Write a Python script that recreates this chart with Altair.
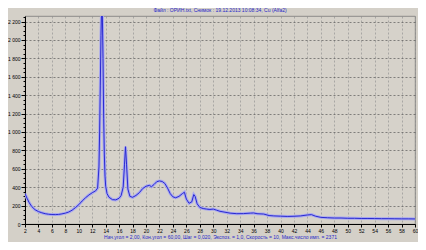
import altair as alt
import pandas as pd

two_theta = [2.0, 2.3, 2.6, 3.0, 3.5, 4.0, 4.5, 5.0, 5.5, 6.0, 6.5, 7.0, 7.5, 8.0, 8.5, 9.0, 9.5,
             10.0, 10.5, 11.0, 11.5, 12.0, 12.5, 12.8, 13.0, 13.1, 13.2, 13.3, 13.4, 13.5, 13.6,
             13.7, 13.8, 13.9, 14.0, 14.2, 14.5, 15.0, 15.5, 16.0, 16.3, 16.6, 16.8, 16.95, 17.1,
             17.3, 17.6, 18.0, 18.5, 19.0, 19.5, 20.0, 20.5, 20.8, 21.2, 21.6, 22.0, 22.4, 22.8,
             23.2, 23.6, 24.0, 24.4, 24.9, 25.4, 25.7, 26.0, 26.4, 26.8, 27.1, 27.3, 27.6, 28.0,
             28.5, 29.0, 29.5, 30.0, 30.5, 31.0, 31.6, 32.5, 33.5, 34.5, 35.5, 36.0, 36.5, 37.5,
             38.3, 39.0, 40.0, 41.0, 42.0, 43.0, 44.0, 44.6, 45.2, 46.0, 47.0, 48.0, 49.0, 50.0,
             51.0, 52.0, 53.0, 54.0, 55.0, 56.0, 57.0, 58.0, 59.0, 60.0]
counts = [330, 280, 235, 190, 155, 135, 122, 112, 106, 103, 102, 104, 110, 118, 130, 150, 178,
          210, 250, 285, 315, 340, 360, 390, 620, 1000, 1500, 2050, 2371, 2300, 1800,
          1150, 750, 520, 410, 330, 290, 265, 262, 280, 310, 400, 650, 840, 650,
          380, 300, 290, 310, 340, 385, 410, 420, 405, 430, 460, 468, 462, 440,
          390, 330, 295, 285, 300, 330, 345, 270, 225, 240, 320, 300, 220, 180,
          168, 162, 158, 162, 150, 138, 130, 118, 112, 113, 118, 120, 112, 108,
          92, 88, 85, 82, 84, 88, 98, 102, 85, 72, 68, 65, 65, 62,
          62, 60, 60, 59, 58, 58, 57, 56, 56, 55]

x_ticks = list(range(2, 61, 2))
y_ticks = list(range(0, 2251, 50))

title_text = "Файл : ОРИН.txt,  Снимок : 19.12.2013 10:08:34,  Cu (Alfa2)"
footer_text = ("Нач.угол = 2,00,  Кон.угол = 60,00,  Шаг = 0,020,  Экспоз. = 1,0,  "
               "Скорость = 10,  Макс.число имп. = 2371")

df = pd.DataFrame({"t": two_theta, "c": counts})

x_enc = alt.X("t:Q", scale=alt.Scale(domain=[2, 60], nice=False),
              axis=alt.Axis(values=x_ticks, title=footer_text, titleColor="#2828c8",
                            titleFontSize=5, titleFont="Arial", titleFontWeight="normal",
                            titlePadding=1, labelFontSize=5, labelFont="Arial",
                            labelPadding=1, labelOverlap=False, labelBound=False,
                            labelFlush=False, tickSize=3,
                            domainColor="#000", tickColor="#000",
                            labelColor="#000", grid=True, gridColor="#8a8a8a",
                            gridDash=[2, 2], gridWidth=0.6))
y_enc = alt.Y("c:Q", scale=alt.Scale(domain=[0, 2260], nice=False, zero=True),
              axis=alt.Axis(values=y_ticks, title=None,
                            labelExpr="datum.value % 200 === 0 ? replace(format(datum.value, ','), ',', ' ') : ''",
                            labelFontSize=5, labelFont="Arial", labelPadding=1,
                            labelOverlap=False, labelBound=False, labelFlush=False,
                            tickSize={"condition": {"test": "datum.value % 200 === 0", "value": 4}, "value": 2},
                            domainColor="#000", tickColor="#000", labelColor="#000",
                            grid=True, gridColor="#444",
                            gridOpacity={"condition": {"test": "datum.value % 200 === 0", "value": 1}, "value": 0},
                            gridDash=[2, 2], gridWidth=0.6))

halo = alt.Chart(df).mark_line(color="#a8a8f0", strokeWidth=3, clip=True).encode(x=x_enc, y=y_enc)
line = alt.Chart(df).mark_line(color="#2a2ad0", strokeWidth=1, clip=True).encode(x=x_enc, y=y_enc)

chart = (halo + line).properties(
    width=390, height=208,
    title=alt.TitleParams(title_text, fontSize=5, font="Arial", color="#2828c8",
                          fontWeight="normal", anchor="middle", offset=2),
    autosize=alt.AutoSizeParams(type="none"),
    padding={"left": 17, "top": 8, "right": 3, "bottom": 18},
    background="#d4d0c8",
).configure_view(fill="#d6d2ca", stroke="#7a7a7a", strokeWidth=0.8
).configure_axis(labelOverlap=False)

chart.save("out.html", embed_options={"renderer": "svg", "actions": False})
